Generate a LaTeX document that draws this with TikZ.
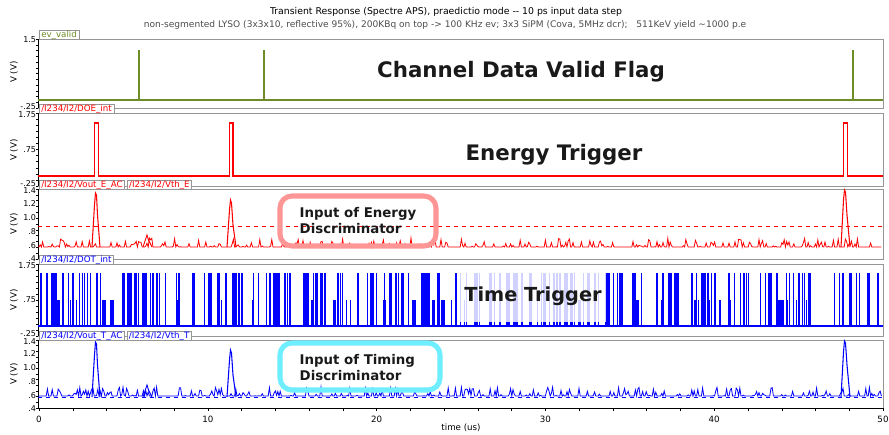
\documentclass[tikz,border=0pt]{standalone}
\usepackage{fontspec}
\setmainfont{DejaVu Sans}
\usetikzlibrary{positioning}
\definecolor{evgreen}{RGB}{110,140,40}
\definecolor{pinkedge}{RGB}{255,150,150}
\definecolor{cyanedge}{RGB}{110,238,255}
\definecolor{framegray}{RGB}{150,150,150}

\begin{document}
\begin{tikzpicture}[x=0.75pt,y=0.75pt,yscale=-1,
	panelframe/.style={draw=framegray,line width=0.6pt},
	tab/.style={draw=framegray,fill=white,inner xsep=1.5pt,inner ysep=0.4pt,font=\fontsize{6.5}{7}\selectfont,anchor=south west},
	ticklab/.style={font=\fontsize{6}{7}\selectfont,anchor=east,inner sep=0.5pt},
	biglab/.style={font=\fontsize{16}{18}\selectfont\bfseries,text=black!90},
	boxlab/.style={font=\fontsize{10}{12}\selectfont\bfseries,align=left,anchor=west,text=black!90},
	ylab/.style={font=\fontsize{6.5}{7}\selectfont,rotate=90}]
	
	\useasboundingbox (0,0) rectangle (889,435);
	
	% Title Nodes
	\node (title) at (446,12) {\fontsize{7}{8}\selectfont Transient Response (Spectre APS), praedictio mode -{}- 10 ps input data step};
	\node (subtitle) [text=black!70] at (445,25) {\fontsize{6.8}{8}\selectfont non-segmented LYSO (3x3x10, reflective 95\%), 200KBq on top -> 100 KHz ev; 3x3 SiPM (Cova, 5MHz dcr);\ \ \ 511KeV yield \textasciitilde1000 p.e};
	
	% Panels
	\foreach \ptop/\pbot/\pmid [count=\i] in {39/108/72, 113/186/150, 189/259/224, 264/336/300, 340/408/374} {
		\draw[panelframe] (38,\ptop) rectangle (883,\pbot);
		\draw[line width=0.6pt] (38,\ptop) -- (38,\pbot);
		\foreach \k in {0,...,12}
			\draw[line width=0.3pt] (36.3,{\ptop+\k*(\pbot-\ptop)/12}) -- (38,{\ptop+\k*(\pbot-\ptop)/12});
		\node[ylab] (vv\i) at (14,\pmid) {V (V)};
	}
	
	% Tick labels
	\foreach \v/\y [count=\i] in {1.5/40, -.25/107, 1.75/115, .75/150, -.25/184, 1.4/191, 1.2/204, 1.0/218, .8/232, .6/246, .4/259, 1.75/266, .75/300, -.25/334, 1.4/342, 1.2/354, 1.0/368, .8/382, .6/396, .4/409}
		\node[ticklab] (yt\i) at (37,\y) {\v};
	
	% Channel data valid
	\draw[evgreen,line width=1pt] (38,100) -- (883,100);
	\foreach \x in {139,264,853}
		\draw[evgreen,line width=0.9pt] (\x,100) -- (\x,50);
	
	% Energy trigger
	\draw[red,line width=0.9pt] (38,176) -- (94.5,176) -- (94.5,123) -- (98.5,123) -- (98.5,176) -- (229.5,176) -- (229.5,123) -- (233,123) -- (233,176) -- (843.5,176) -- (843.5,123) -- (847.5,123) -- (847.5,176) -- (883,176);
	
	% Energy discriminator input
	\draw[red,dashed,line width=0.6pt] (38,226) -- (883,226);
	\pgfmathsetseed{11}
	\draw[red,line width=0.6pt] (38,247) \foreach \x in {39,40.2,...,882} { -- (\x,{247-(rnd<0.35)*9*pow(rnd,1.5)}) };
	\draw[red,line width=0.8pt] (92,247) -- (94.5,205) -- (95.5,193) -- (96.5,195) -- (97.5,215) -- (100,247);
	\draw[red,line width=0.8pt] (227,247) -- (229.5,210) -- (230.5,200) -- (231.5,203) -- (233,225) -- (236,247);
	\draw[red,line width=0.8pt] (841,247) -- (843.5,200) -- (844.5,190) -- (845.5,192) -- (847,215) -- (850,247);
	\draw[red,line width=0.7pt] (143,247) -- (146,238) -- (147,235) -- (148.5,240) -- (152,247);
	
	% Time trigger
	\draw[blue,line width=0.9pt] (38,326) -- (883,326);
	\pgfmathsetseed{5}
	\foreach \i in {1,...,240} {
		\pgfmathsetmacro\px{40+838*rnd}
		\pgfmathsetmacro\pw{0.5+2.5*pow(rnd,3)}
		\pgfmathsetmacro\ph{rnd<0.15 ? 300 : 273}
		\draw[blue,line width=\pw pt] (\px,326) -- (\px,\ph);
	}
	\fill[white,opacity=0.82] (458,271) rectangle (606,322);
	
	% Timing discriminator input
	\draw[blue,dashed,line width=0.6pt] (38,397) -- (883,397);
	\pgfmathsetseed{23}
	\draw[blue,line width=0.6pt] (38,396) \foreach \x in {39,40.2,...,882} { -- (\x,{396-(rnd<0.35)*9*pow(rnd,1.5)}) };
	\draw[blue,line width=0.8pt] (92,397) -- (94.5,355) -- (95.5,342) -- (96.5,344) -- (97.5,365) -- (100,397);
	\draw[blue,line width=0.8pt] (227,397) -- (229.5,360) -- (230.5,350) -- (231.5,353) -- (233,375) -- (236,397);
	\draw[blue,line width=0.8pt] (841,397) -- (843.5,352) -- (844.5,341) -- (845.5,343) -- (847,365) -- (850,397);
	\draw[blue,line width=0.7pt] (143,397) -- (146,388) -- (147,385) -- (148.5,390) -- (152,397);
	
	% Tabs
	\node[tab,text=evgreen] (tabev) at (39,40) {ev\_valid};
	\node[tab,text=red] (tabdoe) at (39,114) {/I234/I2/DOE\_int};
	\node[tab,text=red] (tabvoute) at (39,190) {/I234/I2/Vout\_E\_AC};
	\node[tab,text=red,right=1.5pt of tabvoute.south east,anchor=south west] (tabvthe) {/I234/I2/Vth\_E};
	\node[tab,text=blue] (tabdot) at (39,265) {/I234/I2/DOT\_int};
	\node[tab,text=blue] (tabvoutt) at (39,341) {/I234/I2/Vout\_T\_AC};
	\node[tab,text=blue,right=1.5pt of tabvoutt.south east,anchor=south west] (tabvtht) {/I234/I2/Vth\_T};
	
	% X axis
	\draw[line width=0.6pt] (38,408) -- (883,408);
	\foreach \t in {0,2,...,50}
		\draw[line width=0.3pt] ({39+16.88*\t},408) -- ({39+16.88*\t},410.5);
	\foreach \t [count=\i] in {0,10,...,50}
		\node[font=\fontsize{6.5}{7}\selectfont] (xt\i) at ({39+16.88*\t},419) {\t};
	\node (xlab) at (461,428) {\fontsize{6.5}{7}\selectfont time (us)};
	
	% Big labels
	\node[biglab] (cdvf) at (521,72) {Channel Data Valid Flag};
	\node[biglab] (etrig) at (554,155) {Energy Trigger};
	\node[biglab,font=\fontsize{14.5}{17}\selectfont\bfseries] (ttrig) at (533,296) {Time Trigger};
	
	% Discriminator boxes
	\draw[pinkedge,line width=3.8pt,rounded corners=9pt] (280,196) rectangle (436,246);
	\node[boxlab] (einput) at (295,221) {Input of Energy\\Discriminator};
	\draw[cyanedge,line width=3.8pt,rounded corners=9pt] (280,343) rectangle (440,390);
	\node[boxlab] (tinput) at (295,368) {Input of Timing\\Discriminator};
	
\end{tikzpicture}
\end{document}
